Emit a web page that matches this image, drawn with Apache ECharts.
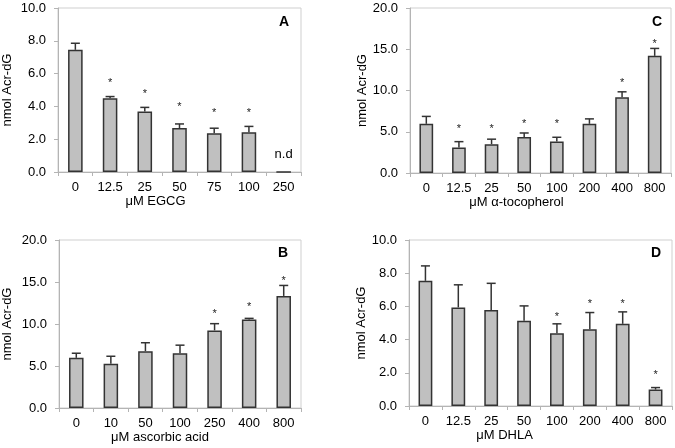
<!DOCTYPE html>
<html>
<head>
<meta charset="utf-8">
<script src="https://cdn.jsdelivr.net/npm/echarts@6/dist/echarts.min.js"></script>
<style>
html,body{margin:0;padding:0;background:#fff;}
#chart{width:675px;height:448px;}
</style>
</head>
<body>
<div id="chart"></div>
<script>
// Panel A: EGCG
const catsA = ['0','12.5','25','50','75','100','250'];
const valsA = [7.45, 4.50, 3.69, 2.68, 2.37, 2.43, 0];
const errsA = [0.40, 0.10, 0.25, 0.25, 0.30, 0.35, 0];
const starsA = [null, 5.56, 4.87, 4.10, 3.73, 3.73, null];
const ndIndexA = 6;

// Panel B: ascorbic acid
const catsB = ['0','10','50','100','250','400','800'];
const valsB = [5.97, 5.26, 6.77, 6.53, 9.24, 10.55, 13.34];
const errsB = [0.55, 0.90, 1.00, 0.95, 0.80, 0.12, 1.25];
const starsB = [null, null, null, null, 11.43, 12.22, 15.41];

// Panel C: alpha-tocopherol
const catsC = ['0','12.5','25','50','100','200','400','800'];
const valsC = [5.96, 3.10, 3.50, 4.35, 3.83, 5.96, 9.19, 14.20];
const errsC = [0.90, 0.70, 0.60, 0.50, 0.50, 0.60, 0.65, 0.90];
const starsC = [null, 5.63, 5.63, 6.24, 6.24, null, 11.16, 15.90];

// Panel D: DHLA
const catsD = ['0','12.5','25','50','100','200','400','800'];
const valsD = [7.54, 5.94, 5.79, 5.13, 4.39, 4.63, 4.95, 0.99];
const errsD = [0.90, 1.36, 1.60, 0.90, 0.56, 1.00, 0.72, 0.12];
const starsD = [null, null, null, null, 5.47, 6.28, 6.28, 1.96];

const panels = [
  {letter:'A', cats:catsA, vals:valsA, errs:errsA, stars:starsA, nd:ndIndexA, xname:'μM EGCG', max:10, interval:2,
   grid:{left:55, top:8, width:246, height:164}, nameGap:44, xPad:48, letterPos:{left:279, top:15}},
  {letter:'C', cats:catsC, vals:valsC, errs:errsC, stars:starsC, nd:-1, xname:'μM α-tocopherol', max:20, interval:5,
   grid:{left:410, top:8, width:261, height:165}, nameGap:41, xPad:48, letterPos:{left:652, top:15}},
  {letter:'B', cats:catsB, vals:valsB, errs:errsB, stars:starsB, nd:-1, xname:'μM ascorbic acid', max:20, interval:5,
   grid:{left:54, top:240, width:247, height:168}, nameGap:45, xPad:40, letterPos:{left:278, top:246}},
  {letter:'D', cats:catsD, vals:valsD, errs:errsD, stars:starsD, nd:-1, xname:'μM DHLA', max:10, interval:2,
   grid:{left:409, top:240, width:263, height:166}, nameGap:40, xPad:72, letterPos:{left:651, top:246}}
];

const FONT = 'Liberation Sans, Arial, Helvetica, sans-serif';
const axisGray = '#b4b4b4';

const option = {
  backgroundColor:'#fff',
  animation:false,
  title:[], grid:[], xAxis:[], yAxis:[], series:[]
};

panels.forEach((p, i) => {
  option.grid.push(Object.assign({show:true, borderColor:'#cfcfcf', borderWidth:1, backgroundColor:'transparent'}, p.grid));
  option.title.push({text:p.letter, left:p.letterPos.left, top:p.letterPos.top, padding:0,
    textStyle:{fontFamily:FONT, fontSize:14, fontWeight:'bold', color:'#000'}});
  option.xAxis.push({
    type:'category', gridIndex:i, data:p.cats,
    name:p.xname, nameLocation:'middle', nameGap:23,
    nameTextStyle:{fontFamily:FONT, fontSize:13, color:'#000', padding:[0, p.xPad, 0, 0]},
    axisLine:{lineStyle:{color:axisGray, width:1}},
    axisTick:{show:true, length:4, lineStyle:{color:axisGray}},
    axisLabel:{fontFamily:FONT, fontSize:13, color:'#000', margin:9, interval:0},
    splitLine:{show:false}
  });
  option.yAxis.push({
    type:'value', gridIndex:i, min:0, max:p.max, interval:p.interval,
    name:'nmol Acr-dG', nameLocation:'middle', nameGap:p.nameGap, nameRotate:90,
    nameTextStyle:{fontFamily:FONT, fontSize:13, color:'#000'},
    axisLine:{show:true, lineStyle:{color:axisGray, width:1}},
    axisTick:{show:true, length:4, lineStyle:{color:axisGray}},
    axisLabel:{fontFamily:FONT, fontSize:13, color:'#000', margin:12, formatter:v => v.toFixed(1)},
    splitLine:{show:false}
  });
  option.series.push({
    type:'bar', xAxisIndex:i, yAxisIndex:i, barWidth:'42%',
    itemStyle:{color:'#c0c0c0', borderColor:'#333', borderWidth:1.5},
    data:p.vals.map((v, k) => k === p.nd ? {value:v, label:{show:true, position:'top', distance:10, formatter:'n.d', fontFamily:FONT, fontSize:13, color:'#000'}} : v)
  });
  option.series.push({
    type:'custom', xAxisIndex:i, yAxisIndex:i, z:5,
    data:p.vals.map((v, k) => [k, v, p.errs[k]]),
    renderItem:(params, api) => {
      const e = api.value(2);
      if (!e) return null;
      const b = api.coord([api.value(0), api.value(1)]);
      const t = api.coord([api.value(0), api.value(1) + e]);
      const st = {stroke:'#333', lineWidth:1.5};
      return {type:'group', children:[
        {type:'line', shape:{x1:b[0], y1:b[1], x2:t[0], y2:t[1]}, style:st},
        {type:'line', shape:{x1:t[0]-4.5, y1:t[1], x2:t[0]+4.5, y2:t[1]}, style:st}
      ]};
    }
  });
  option.series.push({
    type:'custom', xAxisIndex:i, yAxisIndex:i, z:6,
    data:p.stars.map((s, k) => [k, s]).filter(d => d[1] !== null),
    renderItem:(params, api) => {
      const c = api.coord([api.value(0), api.value(1)]);
      return {type:'text', x:c[0], y:c[1] + 2,
        style:{text:'*', fontFamily:FONT, fontSize:11, fill:'#222', align:'center', verticalAlign:'middle'}};
    }
  });
});

const chart = echarts.init(document.getElementById('chart'), null, {renderer:'canvas'});
chart.setOption(option);
</script>
</body>
</html>
